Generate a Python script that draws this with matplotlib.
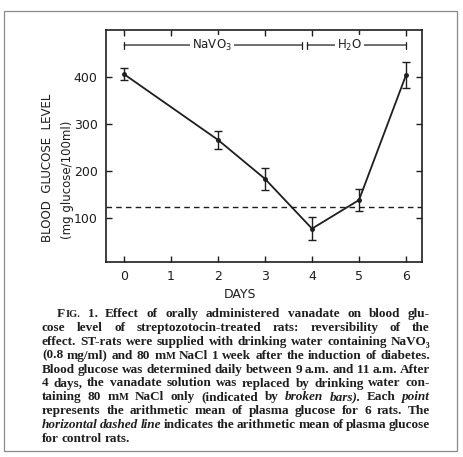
import matplotlib.pyplot as plt

# data
days = [0, 2, 3, 4, 5, 6]
glucose = [406, 266, 183, 77, 138, 404]
glucose_err = [13, 19, 23, 24, 23, 27]
control_mean = 123
day_ticks = [0, 1, 2, 3, 4, 5, 6]
glucose_ticks = [100, 200, 300, 400]

# treatment periods (start, end, label, label position)
periods = [(0, 3.78, "NaVO$_3$", 1.87), (3.9, 6.0, "H$_2$O", 4.8)]
period_level = 468

caption = [
    "F^IG.^ 1. Effect of orally administered vanadate on blood glu-",
    "cose level of streptozotocin-treated rats: reversibility of the",
    "effect. ST-rats were supplied with drinking water containing NaVO\u2083",
    "(0.8 mg/ml) and 80 m^M^ NaCl 1 week after the induction of diabetes.",
    "Blood glucose was determined daily between 9 a.m. and 11 a.m. After",
    "4 days, the vanadate solution was replaced by drinking water con-",
    "taining 80 m^M^ NaCl only (indicated by _broken bars_). Each _point_",
    "represents the arithmetic mean of plasma glucose for 6 rats. The",
    "_horizontal dashed line_ indicates the arithmetic mean of plasma glucose",
    "for control rats.",
]

W, H = 463, 457
ink = "#1e1e1e"
fig = plt.figure(figsize=(W / 100, H / 100), dpi=100)
fig.patch.set_facecolor("white")

# scan frame
fig.add_artist(plt.Rectangle((4 / W, 1 - 451 / H), 453 / W, 440 / H,
                             transform=fig.transFigure, fill=False,
                             lw=0.9, ec="#8a8a8a"))

ax = fig.add_axes([106 / W, 1 - 262 / H, 316 / W, 232 / H])
ax.set_xlim(-0.383, 6.34)
ax.set_ylim(6, 500)

ax.errorbar(days, glucose, yerr=glucose_err, color=ink, lw=1.3,
            marker="o", ms=2.5, capsize=3, elinewidth=1.0, capthick=1.0)
ax.axhline(control_mean, color=ink, lw=1.0, dashes=(4, 3))

for x0, x1, label, xl in periods:
    ax.annotate("", xy=(x1, period_level), xytext=(x0, period_level),
                arrowprops=dict(arrowstyle="|-|,widthA=0.25,widthB=0.25",
                                color=ink, lw=0.9, shrinkA=0, shrinkB=0))
    ax.text(xl, period_level, label, ha="center", va="center", fontsize=8.5,
            color=ink, bbox=dict(fc="white", ec="none", pad=1.5))

ax.set_xticks(day_ticks)
ax.set_yticks(glucose_ticks)
ax.tick_params(direction="in", length=4, width=1.0, colors=ink,
               labelsize=9, top=True, right=True, pad=6)
for s in ax.spines.values():
    s.set_color(ink)
    s.set_linewidth(1.2)

fig.text(240 / W, 1 - 294 / H, "DAYS", ha="center", va="center",
         fontsize=9, color=ink)
fig.text(48 / W, 1 - 168 / H, "BLOOD  GLUCOSE  LEVEL", rotation=90,
         ha="center", va="center", fontsize=8.5, color=ink)
fig.text(68 / W, 1 - 180 / H, "(mg glucose/100ml)", rotation=90,
         ha="center", va="center", fontsize=8.5, color=ink)

# caption, justified word by word
cap_font = ["Liberation Serif", "DejaVu Serif"]
renderer = fig.canvas.get_renderer()
left, right = 42, 430


def parse(word):
    parts = []
    small = False
    for i, chunk in enumerate(word.split("^")):
        if i > 0:
            small = not small
        if chunk:
            parts.append((chunk, small))
    return parts


def word_parts(line):
    words = []
    italic = False
    for w in line.split(" "):
        if w.startswith("_"):
            italic = True
            w = w[1:]
        end_it = "_" in w
        words.append((parse(w.replace("_", "")), italic))
        if end_it:
            italic = False
    return words


def make_text(x, y, text, small, italic, size):
    return fig.text(x / W, 1 - y / H, text,
                    fontsize=size * (0.78 if small else 1),
                    family=cap_font, style="italic" if italic else "normal",
                    weight="bold", color=ink, va="baseline", ha="left")


def word_width(parts, italic, size):
    tot = 0
    for text, small in parts:
        t = make_text(0, 0, text, small, italic, size)
        tot += t.get_window_extent(renderer).width
        t.remove()
    return tot


# pick the size so the widest line still fits with normal spaces
probe_size = 10
fits = []
for i, line in enumerate(caption[:-1]):
    words = word_parts(line)
    x0 = 57 if i == 0 else left
    natural = sum(word_width(p, it, probe_size) for p, it in words)
    natural += 0.25 * probe_size * (len(words) - 1)
    fits.append(probe_size * (right - x0) / natural)
cap_size = min(fits)

for i, line in enumerate(caption):
    y = 317 + i * 13.9
    x0 = 57 if i == 0 else left
    words = word_parts(line)
    widths = [word_width(p, it, cap_size) for p, it in words]
    if i == len(caption) - 1:
        gap = cap_size * 0.3
    else:
        gap = (right - x0 - sum(widths)) / (len(words) - 1)
    x = x0
    for (parts, it), wd in zip(words, widths):
        xp = x
        for text, small in parts:
            t = make_text(xp, y, text, small, it, cap_size)
            xp += t.get_window_extent(renderer).width
        x += wd + gap

fig.savefig("out.png", dpi=100, facecolor="white")
